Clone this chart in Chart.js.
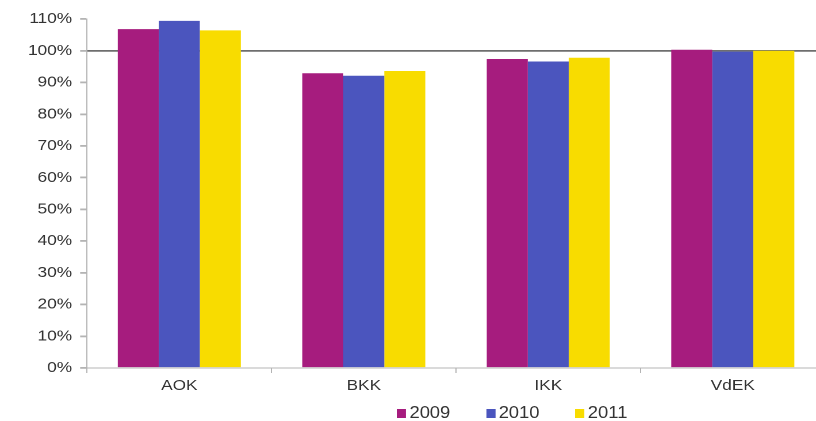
<!DOCTYPE html>
<html>
<head>
<meta charset="utf-8">
<script src="https://cdn.jsdelivr.net/npm/chart.js@4"></script>
<style>
    html, body { margin: 0; padding: 0; background: #fff; }
    #frame { position: relative; width: 816px; height: 421px; overflow: hidden; }
    /* the original picture is a bit stretched sideways, so the chart is too */
    #wrap { position: absolute; left: 0; top: 0; width: 730px; height: 421px;
            transform: scaleX(1.15); transform-origin: 0 0; }
    #legend { position: absolute; left: 345px; top: 404px; display: flex; gap: 31px;
              font-family: 'Liberation Sans', Arial, sans-serif; font-size: 16px; color: #333; line-height: 18px; }
    #legend .item { display: flex; align-items: center; }
    #legend .box { width: 8px; height: 9px; margin-right: 3px; }
</style>
</head>
<body>
<div id="frame">
  <div id="wrap">
    <canvas id="chart" width="730" height="421"></canvas>
    <div id="legend"></div>
  </div>
</div>
<script>
let categories = ['AOK', 'BKK', 'IKK', 'VdEK'];
let seriesNames = ['2009', '2010', '2011'];
let values2009 = [106.8, 92.9, 97.4, 100.3];
let values2010 = [109.4, 92.1, 96.6, 99.7];
let values2011 = [106.4, 93.6, 97.8, 100.0];
let seriesColors = ['#A61C7E', '#4B55BE', '#F8DC00'];
let yTicks = [0, 10, 20, 30, 40, 50, 60, 70, 80, 90, 100, 110];

let allValues = [values2009, values2010, values2011];
let datasets = [];
for (let i = 0; i < seriesNames.length; i++) {
    datasets.push({
        label: seriesNames[i],
        data: allValues[i],
        backgroundColor: seriesColors[i]
    });
}

// legend under the chart
let legend = document.getElementById('legend');
for (let i = 0; i < seriesNames.length; i++) {
    let item = document.createElement('div');
    item.className = 'item';
    item.innerHTML = '<span class="box" style="background:' + seriesColors[i] + '"></span><span>' + seriesNames[i] + '</span>';
    legend.appendChild(item);
}

const ctx = document.getElementById('chart').getContext('2d');
new Chart(ctx, {
    type: 'bar',
    data: {
        labels: categories,
        datasets: datasets
    },
    options: {
        responsive: false,
        devicePixelRatio: 2,
        animation: false,
        layout: { padding: { top: 19, right: 12.6, left: 0, bottom: 0 } },
        datasets: {
            bar: { categoryPercentage: 0.667, barPercentage: 1.0 }
        },
        scales: {
            x: {
                afterFit(scale) {
                    scale.height = 53;
                },
                grid: {
                    drawOnChartArea: false,
                    tickLength: 5,
                    color: '#b4b4b4'
                },
                border: { color: '#b4b4b4' },
                ticks: {
                    color: '#333',
                    font: { family: 'Liberation Sans', size: 15 },
                    padding: 4
                }
            },
            y: {
                min: 0,
                max: 110,
                afterBuildTicks(scale) {
                    scale.ticks = yTicks.map(v => ({ value: v }));
                },
                afterFit(scale) {
                    scale.width = 75.7;
                },
                grid: {
                    color: function(c) {
                        return c.tick && c.tick.value === 100 ? '#6e6e6e' : 'rgba(0,0,0,0)';
                    },
                    lineWidth: 1.8,
                    tickColor: '#b4b4b4',
                    tickLength: 6
                },
                border: { color: '#b4b4b4' },
                ticks: {
                    color: '#333',
                    font: { family: 'Liberation Sans', size: 15 },
                    padding: 7,
                    callback: function(v) { return v + '%'; }
                }
            }
        },
        plugins: {
            legend: { display: false },
            tooltip: { enabled: false }
        }
    }
});
</script>
</body>
</html>
